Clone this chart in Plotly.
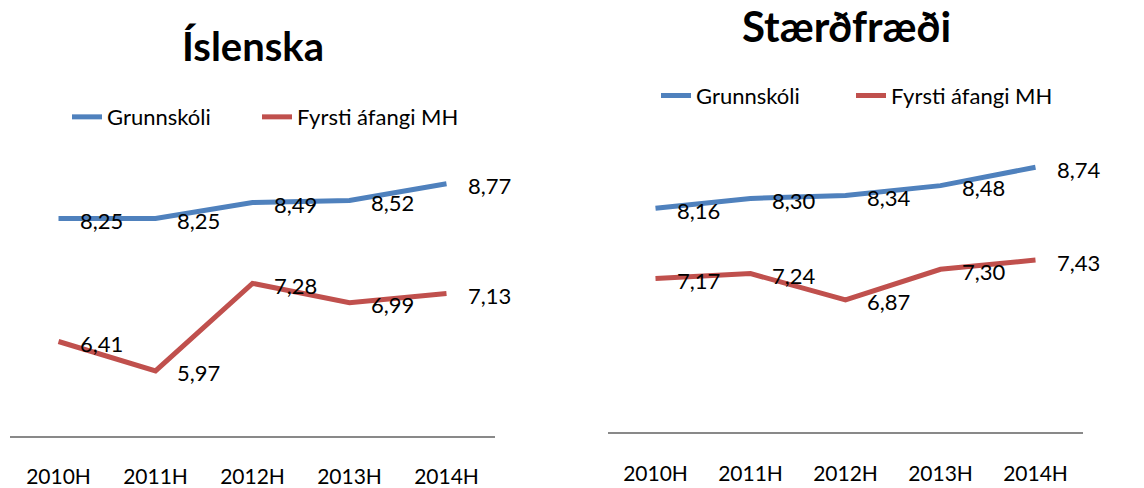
import plotly.graph_objects as go

categories = ["2010H", "2011H", "2012H", "2013H", "2014H"]
isl_grunn = [8.25, 8.25, 8.49, 8.52, 8.77]
isl_mh = [6.41, 5.97, 7.28, 6.99, 7.13]
stae_grunn = [8.16, 8.30, 8.34, 8.48, 8.74]
stae_mh = [7.17, 7.24, 6.87, 7.30, 7.43]
series_names = ["Grunnskóli", "Fyrsti áfangi MH"]
titles = ["Íslenska", "Stærðfræði"]

BLUE = "#4F81BD"
RED = "#C0504D"
FONT = "Lato, Carlito, Calibri, sans-serif"
W, H = 1144, 488

fig = go.Figure()

# one legend per entry so that entry spacing matches the reference
legend_pos = {
    "legend": (67, 120), "legend2": (257, 120),
    "legend3": (656, 98), "legend4": (851, 98),
}

panels = [
    dict(xa="x", ya="y", legends=["legend", "legend2"], data=[isl_grunn, isl_mh]),
    dict(xa="x2", ya="y2", legends=["legend3", "legend4"], data=[stae_grunn, stae_mh]),
]

annotations = []
for p in panels:
    for vals, name, col, lg in zip(p["data"], series_names, [BLUE, RED], p["legends"]):
        fig.add_trace(go.Scatter(
            x=categories, y=vals, name=name, mode="lines",
            line=dict(color=col, width=5), xaxis=p["xa"], yaxis=p["ya"],
            legend=lg, hoverinfo="skip",
        ))
        for c, v in zip(categories, vals):
            annotations.append(dict(
                x=c, y=v, xref=p["xa"], yref=p["ya"],
                text=f"{v:.2f}".replace(".", ","), showarrow=False,
                xanchor="left", yanchor="middle", xshift=19, yshift=-2,
                font=dict(family=FONT, size=22, color="#000000"),
            ))

# panel geometry (pixels)
lx0, lx1, ly0, ly1 = 10, 495, 446.7, 172.7
rx0, rx1, ry0, ry1 = 608, 1083, 443.3, 152.5

annotations.append(dict(text="<b>" + titles[0] + "</b>", x=253 / W, y=1 - 47.5 / H,
                        xref="paper", yref="paper", showarrow=False,
                        xanchor="center", yanchor="middle",
                        font=dict(family=FONT, size=40, color="#000000")))
annotations.append(dict(text="<b>" + titles[1] + "</b>", x=846 / W, y=1 - 27 / H,
                        xref="paper", yref="paper", showarrow=False,
                        xanchor="center", yanchor="middle",
                        font=dict(family=FONT, size=42, color="#000000")))

axis_common = dict(
    type="category", range=[-0.5, 4.5], showline=True, linecolor="#898989",
    linewidth=2, showgrid=False, zeroline=False, ticks="",
    tickfont=dict(family=FONT, size=21, color="#000000"),
    ticklabelstandoff=21, fixedrange=True,
)
yaxis_common = dict(range=[5, 9], visible=False, showgrid=False,
                    zeroline=False, fixedrange=True)

legends = {}
for key, (px, py) in legend_pos.items():
    legends[key] = dict(orientation="h", x=px / W, y=1 - py / H, xanchor="left",
                        yanchor="middle", font=dict(family=FONT, size=22),
                        bgcolor="rgba(0,0,0,0)", itemclick=False)

fig.update_layout(
    width=W, height=H, margin=dict(l=0, r=0, t=0, b=0),
    paper_bgcolor="white", plot_bgcolor="white",
    font=dict(family=FONT, size=22, color="#000000"),
    xaxis=dict(domain=[lx0 / W, lx1 / W], anchor="y", **axis_common),
    yaxis=dict(domain=[1 - ly0 / H, 1 - ly1 / H], anchor="x", **yaxis_common),
    xaxis2=dict(domain=[rx0 / W, rx1 / W], anchor="y2", **axis_common),
    yaxis2=dict(domain=[1 - ry0 / H, 1 - ry1 / H], anchor="x2", **yaxis_common),
    annotations=annotations,
    showlegend=True,
    **legends,
)

post = "document.body.style.margin='0';document.body.style.padding='0';document.body.style.overflow='hidden';"
fig.write_html("out.html", config={"displayModeBar": False}, post_script=post)
